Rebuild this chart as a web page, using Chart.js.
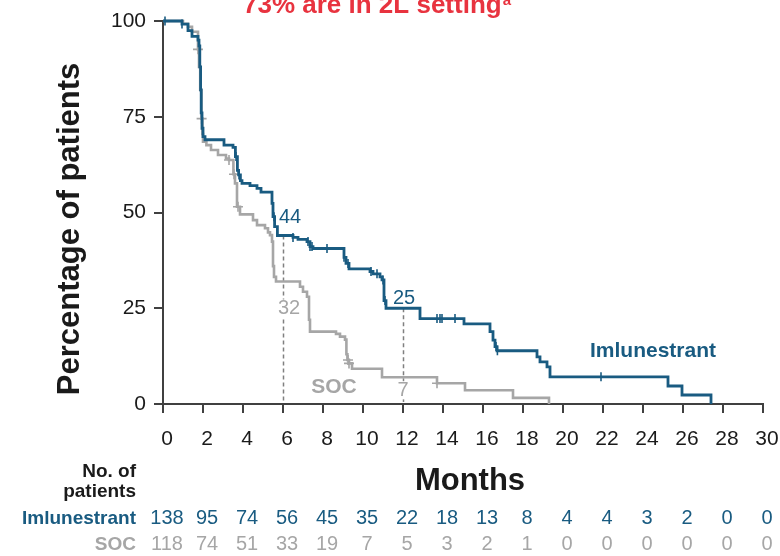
<!DOCTYPE html>
<html>
<head>
<meta charset="utf-8">
<script src="https://cdn.jsdelivr.net/npm/chart.js@4.4.1/dist/chart.umd.min.js"></script>
<style>
  html, body { margin: 0; padding: 0; background: #ffffff; }
  #wrap { width: 780px; height: 556px; position: relative; }
</style>
</head>
<body>
<div id="wrap"><canvas id="km" width="780" height="556"></canvas></div>
<script>
// Kaplan–Meier steps: [month, % of patients still event-free]
const imluSteps = [
  [0, 100], [0.95, 99.2], [1.25, 97.5], [1.45, 96.0], [1.75, 95.0], [1.8, 93.5],
  [1.84, 88.0], [1.88, 82.0], [1.91, 76.0], [1.95, 72.0], [2.0, 69.8], [2.1, 69.0],
  [3.05, 67.6], [3.5, 67.0], [3.62, 64.6], [3.72, 61.0], [3.78, 59.8], [3.87, 58.3],
  [3.95, 57.6], [4.35, 57.0], [4.7, 56.3], [4.9, 55.3], [5.45, 52.4], [5.5, 48.9],
  [5.58, 46.3], [5.72, 44.0], [6.5, 43.5], [6.75, 43.0], [7.2, 42.4], [7.35, 41.1],
  [7.5, 40.6], [9.05, 38.3], [9.15, 36.7], [9.3, 35.3], [10.35, 34.6], [10.5, 34.0],
  [10.85, 33.2], [10.95, 32.4], [11.05, 27.0], [11.15, 25.0], [12.85, 22.3],
  [15.05, 20.9], [16.35, 18.9], [16.5, 16.7], [16.6, 15.0], [16.7, 13.9],
  [18.7, 12.3], [18.85, 11.0], [19.2, 9.7], [19.35, 7.1], [25.25, 4.7],
  [25.95, 2.35], [27.4, 0]
];
const socSteps = [
  [0, 100], [1.0, 99.3], [1.25, 98.5], [1.45, 97.2], [1.75, 92.6], [1.8, 88.0],
  [1.86, 82.0], [1.92, 74.5], [1.97, 70.5], [2.0, 68.5], [2.17, 67.6], [2.4, 66.3],
  [2.75, 65.0], [3.15, 64.1], [3.3, 63.7], [3.52, 60.0], [3.6, 57.6], [3.7, 51.5],
  [3.85, 49.5], [4.5, 48.0], [4.7, 46.7], [5.1, 45.9], [5.25, 44.8], [5.35, 44.1],
  [5.45, 42.4], [5.5, 36.0], [5.55, 33.2], [5.65, 32.0], [6.85, 30.6], [7.0, 29.3],
  [7.2, 28.0], [7.3, 22.0], [7.35, 18.9], [8.65, 18.3], [8.85, 17.6], [9.1, 16.8],
  [9.17, 13.0], [9.22, 11.5], [9.3, 10.6], [9.45, 9.2], [10.95, 7.0], [13.7, 5.4],
  [15.1, 3.6], [17.5, 1.6], [19.3, 0]
];

// Censoring times (months)
const imluCensored = [0.1, 0.95, 3.65, 3.8, 5.55, 6.5, 7.25, 7.35, 7.45, 8.2, 9.05,
  9.25, 10.4, 10.7, 11.0, 11.1, 13.7, 13.85, 13.95, 14.6, 16.65, 16.72, 21.9];
const socCensored = [1.75, 1.93, 3.3, 3.55, 3.75, 9.25, 9.3, 13.7];

// Landmark estimates marked on the curves
const landmarkMonths = [6, 12];
const imluLandmark = [44, 25];
const socLandmark = [32, 7];

// Number of patients at risk
const riskMonths = [0, 2, 4, 6, 8, 10, 12, 14, 16, 18, 20, 22, 24, 26, 28, 30];
const imluAtRisk = [138, 95, 74, 56, 45, 35, 22, 18, 13, 8, 4, 4, 3, 2, 0, 0];
const socAtRisk = [118, 74, 51, 33, 19, 7, 5, 3, 2, 1, 0, 0, 0, 0, 0, 0];

const yTicks = [0, 25, 50, 75, 100];

const BLUE = '#195b81';
const GREY = '#a6a6a6';
const AXIS = '#404040';
const RED = '#e8333f';
const FONT = "'Liberation Sans', Arial, Helvetica, sans-serif";

function valueAt(steps, t) {
  let v = steps[0][1];
  for (const [m, s] of steps) { if (m <= t) v = s; else break; }
  return v;
}
const toPts = steps => steps.map(([x, y]) => ({ x, y }));

const annotations = {
  id: 'kmAnnotations',
  beforeDatasetsDraw(chart) {
    const { ctx, scales: { x, y } } = chart;
    ctx.save();
    ctx.strokeStyle = '#808080';
    ctx.lineWidth = 1.5;
    ctx.setLineDash([4, 3]);
    landmarkMonths.forEach((m, i) => {
      const px = Math.round(x.getPixelForValue(m)) + 0.5;
      ctx.beginPath();
      ctx.moveTo(px, y.getPixelForValue(imluLandmark[i]));
      ctx.lineTo(px, y.getPixelForValue(0) - 2);
      ctx.stroke();
    });
    ctx.setLineDash([]);
    // landmark values
    ctx.font = `20px ${FONT}`;
    ctx.textAlign = 'center';
    ctx.textBaseline = 'middle';
    const label = (txt, cx, cy, color, bg) => {
      if (bg) {
        const w = ctx.measureText(txt).width + 4;
        ctx.fillStyle = '#ffffff';
        ctx.fillRect(cx - w / 2, cy - 9, w, 18);
      }
      ctx.fillStyle = color;
      ctx.fillText(txt, cx, cy);
    };
    const x6 = x.getPixelForValue(landmarkMonths[0]);
    const x12 = x.getPixelForValue(landmarkMonths[1]);
    label(String(imluLandmark[0]), x6 + 7, y.getPixelForValue(imluLandmark[0]) - 18, BLUE, false);
    label(String(socLandmark[0]), x6 + 6, y.getPixelForValue(socLandmark[0]) + 27, GREY, true);
    label(String(imluLandmark[1]), x12 + 1, y.getPixelForValue(imluLandmark[1]) - 10, BLUE, false);
    label(String(socLandmark[1]), x12, y.getPixelForValue(socLandmark[1]) + 13, GREY, true);
    ctx.restore();
  },
  afterDraw(chart) {
    const { ctx, scales: { x } } = chart;
    ctx.save();
    // heading
    ctx.fillStyle = RED;
    ctx.textBaseline = 'alphabetic';
    ctx.textAlign = 'left';
    ctx.font = `bold 26px ${FONT}`;
    const head = '73% are in 2L setting';
    ctx.fillText(head, 243, 13);
    const hw = ctx.measureText(head).width;
    ctx.font = `bold 15px ${FONT}`;
    ctx.fillText('a', 243 + hw + 1, 5);

    // series names on the plot
    ctx.font = `bold 21px ${FONT}`;
    ctx.textAlign = 'center';
    ctx.textBaseline = 'middle';
    ctx.fillStyle = GREY;
    ctx.fillText('SOC', 334, 387);
    ctx.fillStyle = BLUE;
    ctx.fillText('Imlunestrant', 653, 351);

    // axis titles
    ctx.fillStyle = '#1a1a1a';
    ctx.font = `bold 31px ${FONT}`;
    ctx.textBaseline = 'alphabetic';
    ctx.fillText('Months', 470, 490);
    ctx.save();
    ctx.translate(79, 229);
    ctx.rotate(-Math.PI / 2);
    ctx.font = `bold 31px ${FONT}`;
    ctx.fillText('Percentage of patients', 0, 0);
    ctx.restore();

    // number at risk table
    ctx.textAlign = 'right';
    ctx.font = `bold 19px ${FONT}`;
    ctx.fillStyle = '#1a1a1a';
    ctx.fillText('No. of', 136, 477);
    ctx.fillText('patients', 136, 497);
    ctx.fillStyle = BLUE;
    ctx.fillText('Imlunestrant', 136, 524);
    ctx.fillStyle = GREY;
    ctx.fillText('SOC', 136, 550);

    ctx.textAlign = 'center';
    ctx.font = `20px ${FONT}`;
    riskMonths.forEach((m, i) => {
      const px = x.getPixelForValue(m) + 4;
      ctx.fillStyle = BLUE;
      ctx.fillText(String(imluAtRisk[i]), px, 524);
      ctx.fillStyle = GREY;
      ctx.fillText(String(socAtRisk[i]), px, 550);
    });
    ctx.restore();
  }
};

new Chart(document.getElementById('km'), {
  type: 'line',
  data: {
    datasets: [
      {
        label: 'Imlunestrant censored',
        type: 'scatter',
        data: imluCensored.map(t => ({ x: t, y: valueAt(imluSteps, t) })),
        pointStyle: 'line',
        rotation: 90,
        pointRadius: 4.5,
        pointBorderWidth: 1.6,
        borderColor: BLUE,
        backgroundColor: BLUE,
        showLine: false,
        clip: false
      },
      {
        label: 'Imlunestrant',
        data: toPts(imluSteps),
        stepped: true,
        borderColor: BLUE,
        borderWidth: 2.8,
        pointRadius: 0,
        fill: false,
        clip: false
      },
      {
        label: 'SOC censored',
        type: 'scatter',
        data: socCensored.map(t => ({ x: t, y: valueAt(socSteps, t) })),
        pointStyle: 'cross',
        pointRadius: 5,
        pointBorderWidth: 1.6,
        borderColor: GREY,
        backgroundColor: GREY,
        showLine: false,
        clip: false
      },
      {
        label: 'SOC',
        data: toPts(socSteps),
        stepped: true,
        borderColor: GREY,
        borderWidth: 2.6,
        pointRadius: 0,
        fill: false,
        clip: false
      }
    ]
  },
  options: {
    responsive: false,
    animation: false,
    devicePixelRatio: 1,
    layout: { padding: { top: 21, right: 17, left: 0, bottom: 0 } },
    plugins: { legend: { display: false }, tooltip: { enabled: false }, title: { display: false } },
    scales: {
      x: {
        type: 'linear',
        min: 0, max: 30,
        afterFit: s => { s.height = 152; s.paddingLeft = 0; s.paddingRight = 0; },
        afterBuildTicks: s => { s.ticks = riskMonths.map(v => ({ value: v })); },
        grid: { drawOnChartArea: false, drawTicks: true, tickLength: 9, color: AXIS, lineWidth: 2 },
        border: { display: true, color: AXIS, width: 2 },
        ticks: { color: '#1a1a1a', font: { family: FONT, size: 21 }, padding: 14, labelOffset: 4, maxRotation: 0, autoSkip: false }
      },
      y: {
        min: 0, max: 100,
        afterFit: s => { s.width = 163; s.paddingTop = 0; s.paddingBottom = 0; },
        afterBuildTicks: s => { s.ticks = yTicks.map(v => ({ value: v })); },
        grid: { drawOnChartArea: false, drawTicks: true, tickLength: 9, color: AXIS, lineWidth: 2 },
        border: { display: true, color: AXIS, width: 2 },
        ticks: { color: '#1a1a1a', font: { family: FONT, size: 21 }, padding: 8 }
      }
    }
  },
  plugins: [annotations]
});
</script>
</body>
</html>
